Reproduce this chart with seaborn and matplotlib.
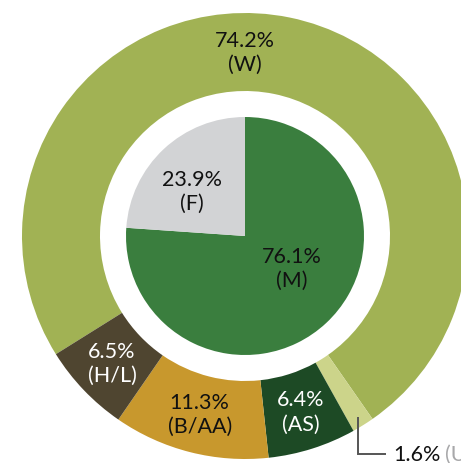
import matplotlib
matplotlib.use("Agg")
import matplotlib.pyplot as plt
import numpy as np
import seaborn as sns

sns.set_theme(style="white")
plt.rcParams['font.family'] = ['Lato', 'DejaVu Sans']

# Outer ring: race / ethnicity shares (%)
ring_labels = ["W", "U", "AS", "B/AA", "H/L"]
ring_values = [74.2, 1.6, 6.4, 11.3, 6.5]
ring_colors = ["#a1b254", "#ccd48a", "#1d4a25", "#c8982d", "#4f4530"]
ring_text_colors = ["#111111", "#111111", "white", "#111111", "white"]

# Inner pie: gender shares (%)
pie_labels = ["M", "F"]
pie_values = [76.1, 23.9]
pie_colors = ["#3a7e3e", "#d2d3d5"]

fig = plt.figure(figsize=(4.61, 4.64), dpi=100)
ax = fig.add_axes([0, 0, 1, 1])

outer_r, ring_w, inner_r = 223, 78, 119
ring_wedges, _ = ax.pie(ring_values, radius=outer_r, startangle=212,
                        counterclock=False, colors=ring_colors,
                        wedgeprops=dict(width=ring_w, linewidth=0))
pie_wedges, _ = ax.pie(pie_values, radius=inner_r, startangle=90,
                       counterclock=False, colors=pie_colors,
                       wedgeprops=dict(linewidth=0))

fs = 15.5
label_r = outer_r - ring_w / 2
for w, lab, val, tc in zip(ring_wedges, ring_labels, ring_values, ring_text_colors):
    if lab == "U":
        continue
    # the large slice is labelled at the top of the ring
    ang = 90 if lab == "W" else (w.theta1 + w.theta2) / 2
    th = np.deg2rad(ang)
    ax.text(label_r * np.cos(th), label_r * np.sin(th), f"{val}%\n({lab})",
            ha="center", va="center", color=tc, fontsize=fs, linespacing=1.25)

# Leader line for the thin "U" slice
u = ring_wedges[ring_labels.index("U")]
th = np.deg2rad((u.theta1 + u.theta2) / 2)
x0, y0 = 214 * np.cos(th), 214 * np.sin(th)
y1 = -218
ax.plot([x0, x0, x0 + 28], [y0, y1, y1], color="#555555", lw=1.4,
        solid_capstyle="butt", solid_joinstyle="miter")
t_u = ax.text(x0 + 35, y1, f"{ring_values[1]}%", ha="left", va="center",
              color="#111111", fontsize=fs)
ax.annotate("(U)", xy=(1, 0.5), xycoords=t_u, xytext=(3, 0),
            textcoords="offset points", ha="left", va="center",
            color="#a8a8aa", fontsize=fs)

# Inner pie labels
inner_pos = {"F": (-53, 45), "M": (47, -32)}
for lab, val in zip(pie_labels, pie_values):
    x, y = inner_pos[lab]
    ax.text(x, y, f"{val}%\n({lab})", ha="center", va="center",
            color="#111111", fontsize=fs, linespacing=1.25)

ax.set_xlim(-245, 216)
ax.set_ylim(-227, 237)
ax.set_aspect("auto")
ax.axis("off")
fig.savefig("out.png", dpi=100, facecolor="white")
